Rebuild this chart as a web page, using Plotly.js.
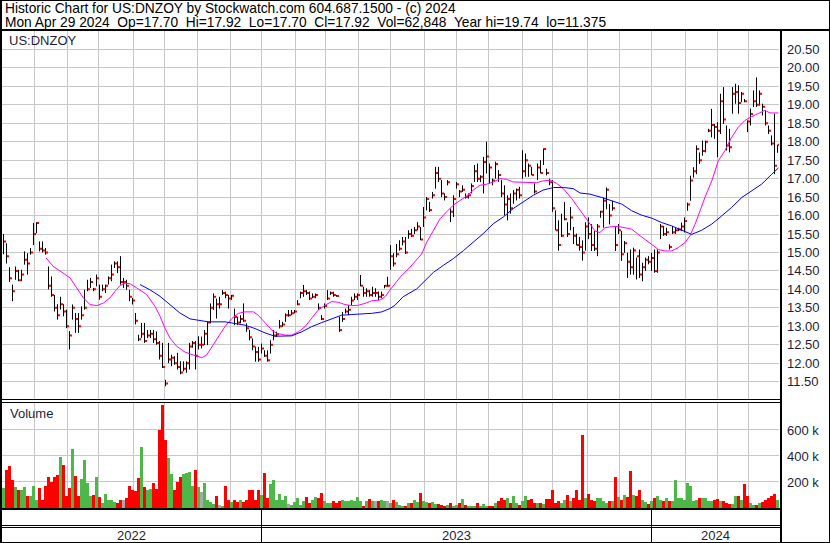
<!DOCTYPE html>
<html>
<head>
<meta charset="utf-8">
<script src="https://cdn.plot.ly/plotly-3.0.1.min.js"></script>
<style>
html,body{margin:0;padding:0;background:#fff;}
#chart{width:830px;height:543px;}
</style>
</head>
<body>
<div id="chart"></div>
<script>
// ---------------- DATA ----------------
const headerLine1 = "Historic Chart for US:DNZOY by Stockwatch.com 604.687.1500 - (c) 2024";
const headerLine2 = "Mon Apr 29 2024  Op=17.70  Hi=17.92  Lo=17.70  Cl=17.92  Vol=62,848  Year hi=19.74  lo=11.375";
const symbolLabel = "US:DNZOY";
const volumeLabel = "Volume";

// bar-by-bar high / low / close (one bar per position on the trading-day axis)
const highs = [
15.5,15.25,14.6,14.13,14.62,14.53,14.53,15.03,14.98,15.12,15.8,15.82,15.3,15.3,15.12,14.62,14.35,13.85,13.6,13.8,
13.6,13.45,12.87,13.59,13.36,13.36,13.54,13.99,14.26,14.31,14.04,14.4,14.13,14.13,14.13,14.35,14.67,14.76,14.76,14.9,
14.31,14.26,13.99,13.77,13.36,12.77,13.09,13.09,12.9,12.9,12.9,12.86,12.6,12.55,11.55,12.55,12.23,12.19,12.28,12.05,
12.05,12.05,12.55,12.6,12.6,12.73,12.72,12.9,13.12,13.62,13.89,13.75,13.8,13.98,13.94,13.85,13.85,13.48,13.26,13.3,
13.62,13.08,12.9,12.67,12.45,12.44,12.53,12.35,12.35,12.62,12.9,12.85,13.17,13.12,13.35,13.44,13.44,13.44,13.71,13.94,
14.12,13.98,13.94,13.89,13.89,13.62,13.3,13.62,13.98,13.94,13.94,13.85,13.26,13.39,13.48,13.57,13.8,13.89,13.89,14.39,
14.07,14.03,13.98,14.07,14.03,13.94,13.94,14.12,14.34,15.2,14.98,15.23,15.33,15.42,15.42,15.6,15.64,15.69,15.82,15.69,
16.23,16.5,16.37,16.64,17.32,17.32,16.96,16.6,16.96,16.19,16.55,16.91,16.69,16.82,16.6,16.6,16.87,17.37,17.41,17.09,
17.59,18.0,17.41,17.0,17.46,17.23,16.96,16.82,16.55,16.6,16.69,16.73,16.78,17.77,17.68,17.41,17.32,16.87,17.41,17.5,
17.82,17.27,17.0,16.96,16.14,15.87,16.05,16.37,15.82,16.23,15.69,15.51,15.42,15.33,15.82,15.95,15.77,15.58,15.77,16.13,
16.49,16.76,16.31,16.4,15.72,15.77,15.58,15.31,14.99,15.08,15.13,14.86,15.08,14.72,14.86,14.9,14.99,15.08,15.08,15.77,
15.72,15.67,15.22,15.72,15.67,15.67,15.81,15.95,16.35,17.08,17.31,17.9,17.71,18.03,18.03,18.35,18.89,18.48,18.53,19.3,
19.48,18.44,18.35,19.48,19.57,19.53,19.35,19.16,18.58,18.9,19.39,19.74,19.39,19.03,18.85,18.44,18.17,18.76,17.92];
const lows = [
14.95,14.7,14.2,13.68,14.26,14.22,14.22,14.67,14.4,14.94,15.2,15.52,15.03,15.0,14.94,14.0,13.8,13.4,13.18,13.45,
13.27,12.95,12.37,13.18,12.82,12.82,13.18,13.45,13.95,14.04,13.95,14.08,13.72,13.95,13.9,14.13,14.22,14.58,14.44,14.13,
14.04,13.99,13.68,13.59,13.05,12.6,12.68,12.55,12.68,12.68,12.55,12.5,12.1,11.87,11.375,12.0,11.92,11.96,11.83,11.7,
11.78,11.74,11.83,12.42,11.83,12.37,12.4,12.49,12.49,13.08,13.44,13.21,13.48,13.85,13.76,13.48,13.71,13.03,13.03,13.08,
13.12,12.85,12.62,12.35,12.04,12.04,12.26,12.17,12.04,12.26,12.62,12.71,12.94,12.99,13.12,13.26,13.3,13.35,13.57,13.76,
13.8,13.85,13.71,13.76,13.76,13.44,13.17,13.48,13.71,13.85,13.8,13.8,12.85,13.12,13.35,13.3,13.57,13.71,13.71,14.08,
13.8,13.8,13.8,13.8,13.8,13.71,13.76,14.03,14.07,14.53,14.62,14.87,15.05,15.19,14.96,15.37,15.42,15.5,15.6,15.33,
15.69,16.14,16.1,16.46,16.73,16.91,16.5,16.41,16.82,15.82,15.96,16.73,16.5,16.64,16.46,16.46,16.6,16.91,16.91,16.91,
16.6,17.14,16.87,16.82,17.0,16.91,16.5,16.0,15.87,16.05,16.32,16.41,16.46,17.0,17.05,17.05,17.09,16.6,16.96,17.14,
17.37,17.09,16.82,16.1,15.6,15.05,15.42,15.87,15.42,15.6,15.23,15.19,15.05,14.78,15.05,15.36,15.04,15.04,14.9,15.94,
15.67,16.17,15.76,16.13,15.04,15.5,14.77,14.99,14.31,14.4,14.4,14.27,14.31,14.22,14.5,14.68,14.5,14.45,14.45,15.36,
15.45,15.45,15.08,15.5,15.5,15.58,15.58,15.54,16.13,16.4,17.03,17.12,17.4,17.62,17.71,18.26,18.12,18.08,17.58,18.21,
18.48,17.76,17.71,18.76,19.03,18.76,19.07,19.07,18.26,18.44,18.94,18.94,18.98,18.71,18.44,18.21,17.9,17.12,17.70];
const closes = [
15.3,14.9,14.3,13.95,14.5,14.25,14.4,14.8,14.7,15.0,15.5,15.8,15.1,15.05,15.0,14.1,13.85,13.5,13.3,13.6,
13.4,13.0,12.75,13.5,13.2,13.0,13.3,13.5,14.0,14.2,14.0,14.3,13.8,14.0,14.1,14.3,14.4,14.7,14.6,14.2,
14.2,14.1,13.8,13.7,13.15,12.65,12.8,12.6,12.75,12.8,12.65,12.55,12.2,11.9,11.45,12.1,12.15,12.0,11.9,11.75,
11.85,12.0,12.45,12.55,12.2,12.5,12.5,12.8,13.1,13.5,13.8,13.6,13.6,13.9,13.85,13.75,13.83,13.25,13.1,13.2,
13.15,12.95,12.7,12.45,12.3,12.1,12.4,12.2,12.08,12.5,12.75,12.78,13.0,13.05,13.3,13.3,13.35,13.4,13.6,13.9,
13.95,13.9,13.75,13.8,13.85,13.5,13.2,13.55,13.75,13.9,13.85,13.82,12.9,13.2,13.4,13.45,13.7,13.8,13.85,14.1,
13.9,13.95,13.85,13.9,13.9,13.8,13.85,14.1,14.1,14.9,14.7,14.95,15.1,15.3,15.0,15.5,15.45,15.6,15.7,15.35,
15.95,16.45,16.15,16.55,17.15,17.0,16.6,16.5,16.9,16.1,16.45,16.85,16.65,16.7,16.5,16.55,16.8,17.2,17.0,17.05,
17.45,17.6,17.3,16.95,17.4,17.1,16.6,16.3,16.45,16.2,16.6,16.7,16.55,17.2,17.5,17.35,17.1,16.65,17.3,17.15,
17.8,17.15,16.9,16.2,15.6,15.2,15.45,15.9,15.5,15.95,15.45,15.2,15.15,15.0,15.7,15.5,15.2,15.1,15.7,16.1,
16.4,16.7,16.0,16.2,15.2,15.6,14.95,15.25,14.75,14.6,15.05,14.9,14.4,14.6,14.8,14.75,14.85,14.5,15.0,15.7,
15.5,15.55,15.15,15.55,15.6,15.62,15.7,15.85,16.3,16.95,17.2,17.8,17.5,17.75,18.0,18.3,18.45,18.4,18.3,19.1,
18.6,17.9,17.85,19.3,19.35,19.05,19.3,19.1,18.55,18.75,19.1,19.0,19.3,18.95,18.5,18.3,17.95,17.35,17.92];
// volume per bar, thousands of shares
const volumeK = [
150,295,325,215,165,140,140,160,95,90,170,65,155,64,170,235,200,240,256,392,
328,90,150,454,244,95,225,372,192,90,100,238,85,40,110,60,64,50,38,64,
64,75,170,140,128,230,470,165,140,145,192,146,597,795,526,385,264,140,200,235,
260,270,280,170,295,160,120,192,64,45,33,90,26,18,170,60,50,64,45,64,
45,64,141,141,64,141,103,270,80,185,218,64,110,64,90,33,26,50,80,26,
51,85,38,64,82,77,115,51,38,38,51,38,51,58,51,51,58,51,85,51,
18,51,70,51,51,51,64,51,51,40,64,45,26,18,18,38,38,64,50,115,
51,45,35,45,30,30,26,18,20,35,15,26,38,69,26,18,18,18,38,18,
33,18,18,18,38,51,77,64,77,38,90,38,26,51,90,64,69,38,38,38,
33,69,69,141,38,51,38,64,103,51,77,141,64,564,77,110,64,51,77,77,
51,38,51,51,238,85,64,103,85,287,103,90,141,64,45,33,51,77,90,64,
51,80,51,51,218,77,77,64,192,172,51,64,77,77,77,51,51,64,69,51,
51,38,33,30,90,90,64,187,95,38,26,20,38,45,64,80,90,110,63];

// moving averages (bar position, value)
const fastMAPos = [14.2,16.6,19.9,22.2,24.4,26.6,28.8,31.1,33.3,35.5,37.2,38.8,40.5,42.2,44.4,47.7,50.5,52.2,53.8,55.5,
57.7,60.5,63.3,66.1,67.7,69.4,71.6,73.8,76.1,78.3,80.5,83.3,84.9,87.2,89.4,91.1,93.8,96.1,98.3,100.5,
102.7,104.9,107.2,109.4,111.6,113.8,116.1,118.3,120.5,122.7,125.5,127.2,128.8,132.2,135.5,139.4,141.1,143.3,145.5,147.7,
149.9,152.2,154.4,156.6,158.8,161.1,163.3,165.5,167.7,169.9,172.2,175.5,177.7,179.9,182.2,184.4,186.6,189.4,192.2,194.9,
197.2,198.8,200.5,202.7,204.9,207.2,209.4,211.6,213.8,216.1,218.3,220.5,222.7,224.9,227.2,228.8,230.5,232.2,233.8,236.1,
238.3,240.5,242.7,244.9,247.2,249.4,251.6,253.8,255.5,258.3];
const fastMA = [14.85,14.62,14.44,14.31,14.04,13.77,13.59,13.56,13.63,13.77,13.95,14.1,14.17,14.15,14.04,13.86,13.54,13.27,12.95,12.68,
12.46,12.3,12.22,12.15,12.22,12.44,12.71,12.99,13.21,13.35,13.39,13.39,13.3,13.08,12.9,12.81,12.76,12.76,12.85,12.99,
13.21,13.44,13.57,13.67,13.65,13.59,13.56,13.57,13.62,13.69,13.71,13.8,13.98,14.33,14.6,14.96,15.28,15.6,15.91,16.1,
16.28,16.41,16.53,16.69,16.82,16.85,16.91,17.0,16.98,16.91,16.91,16.91,16.89,16.94,16.96,16.87,16.73,16.46,16.14,15.82,
15.58,15.54,15.67,15.7,15.7,15.67,15.63,15.49,15.36,15.22,15.08,15.04,15.04,15.13,15.27,15.45,15.76,16.13,16.49,16.94,
17.49,17.76,18.12,18.39,18.58,18.68,18.77,18.85,18.78,18.78];
const slowMAPos = [45.5,48.8,52.2,55.5,58.8,62.2,65.5,68.3,73.8,77.2,80.5,83.8,87.2,90.5,93.8,96.1,99.4,102.7,106.1,109.4,
112.7,116.1,119.4,122.7,126.1,128.8,130.5,133.2,137.7,139.9,143.3,146.6,149.9,153.3,156.6,159.9,163.3,166.6,169.9,173.3,
176.6,179.9,183.3,186.6,189.9,192.2,195.5,199.4,202.7,206.1,209.4,212.7,216.1,219.4,222.7,226.1,229.4,232.7,236.1,239.4,
242.7,246.1,249.4,252.7,256.1,258.3];
const slowMA = [14.13,13.99,13.81,13.59,13.36,13.2,13.15,13.12,13.12,13.08,13.03,12.94,12.82,12.73,12.73,12.74,12.85,12.99,13.1,13.21,
13.3,13.32,13.33,13.35,13.39,13.48,13.57,13.8,14.01,14.19,14.46,14.65,14.83,15.05,15.28,15.51,15.78,15.96,16.19,16.37,
16.55,16.69,16.76,16.76,16.73,16.61,16.58,16.49,16.4,16.31,16.13,16.01,15.93,15.81,15.72,15.6,15.49,15.6,15.77,15.99,
16.22,16.49,16.67,16.85,17.12,17.29];

// month starts (bar positions) for vertical grid, year boundaries and labels
const monthStarts = [10.33,21.33,31.67,43.33,53.67,64.67,75.67,86,97.33,107.33,118.33,129,140.33,151,161.67,173,183,194.67,205.33,216,227.33,238,248.33];
const yearBounds = [-0.5, 86, 216, 258.5];
const yearLabels = ["2022","2023","2024"];
const priceTicks = [11.5,12,12.5,13,13.5,14,14.5,15,15.5,16,16.5,17,17.5,18,18.5,19,19.5,20,20.5];
const volumeTicks = [200,400,600];

// ---------------- BUILD ----------------
const N = closes.length;
const idx = closes.map((_, i) => i);

// high-low sticks as one line trace with gaps
const hlX = [], hlY = [];
for (let i = 0; i < N; i++) { hlX.push(i, i, null); hlY.push(lows[i], highs[i], null); }

const GREEN = '#4db848', RED = '#ff0000', GRAY = '#a8a8a8';
const volColors = closes.map((c, i) => {
  if (i === 0) return GREEN;
  if (c > closes[i - 1]) return GREEN;
  if (c < closes[i - 1]) return RED;
  return GRAY;
});

// pixel geometry helpers for frame shapes / labels
const W = 830, H = 543, L = 2, R = 51, T = 31, B = 35;
const PW = W - L - R, PH = H - T - B;
const px = X => (X - L) / PW;
const py = Y => (H - B - Y) / PH;
const bx = v => (v + 0.5) / N;   // bar position -> paper x

const FONT = 'Liberation Sans, Arial, sans-serif';
const INK = '#1e1e3c';

const traces = [
  { type: 'scatter', mode: 'lines', x: hlX, y: hlY, xaxis: 'x', yaxis: 'y',
    line: { color: '#000000', width: 1 }, hoverinfo: 'skip', connectgaps: false },
  { type: 'scatter', mode: 'markers', x: idx.map(i => i + 0.5), y: closes, xaxis: 'x', yaxis: 'y',
    marker: { symbol: 'square', size: 2, color: '#ff0000', line: { width: 0 } }, hoverinfo: 'skip' },
  { type: 'scatter', mode: 'lines', x: fastMAPos, y: fastMA, xaxis: 'x', yaxis: 'y',
    line: { color: '#ff00ff', width: 1 }, hoverinfo: 'skip' },
  { type: 'scatter', mode: 'lines', x: slowMAPos, y: slowMA, xaxis: 'x', yaxis: 'y',
    line: { color: '#0000ff', width: 1 }, hoverinfo: 'skip' },
  { type: 'bar', x: idx, y: volumeK, xaxis: 'x2', yaxis: 'y2', width: 1,
    marker: { color: volColors, line: { width: 0 } }, hoverinfo: 'skip' }
];

const gridCol = '#c8c8c8';
const xCommon = {
  range: [-0.5, N - 0.5], tickmode: 'array', tickvals: monthStarts, showticklabels: false,
  ticks: '', showgrid: true, gridcolor: gridCol, gridwidth: 1, zeroline: false, showline: false, fixedrange: true
};
const priceLow = 11, priceHigh = 21;
const volMax = 815;

const shapes = [];
const rect = (x0, y0, x1, y1) => shapes.push({ type: 'rect', xref: 'paper', yref: 'paper',
  x0: px(x0), x1: px(x1), y0: py(y0), y1: py(y1), fillcolor: '#000', line: { width: 0 }, layer: 'above' });
// outer frame
rect(0, 0, 830, 1); rect(0, 542, 830, 543); rect(829, 0, 830, 543); rect(0, 0, 2, 543);
// header separator
rect(0, 29, 830, 31);
// right axis border
rect(780, 30, 782, 543);
// panel separators
rect(0, 399, 782, 400);
rect(0, 402, 782, 403);
rect(0, 508, 782, 510);
rect(0, 525, 782, 526);
rect(0, 527, 782, 528);
// year separators in the bottom bands
for (let k = 1; k < yearBounds.length - 1; k++) {
  const X = Math.floor(L + (yearBounds[k] + 0.5) * PW / N);
  rect(X, 510, X + 1, 542);
}

const annotations = [
  { text: headerLine1, x: px(3), y: py(8.5), xref: 'paper', yref: 'paper', xanchor: 'left', yanchor: 'middle',
    showarrow: false, font: { family: FONT, size: 13.75, color: '#000' } },
  { text: headerLine2.replace(/  /g, '\u00a0 '), x: px(3), y: py(22.5), xref: 'paper', yref: 'paper', xanchor: 'left', yanchor: 'middle',
    showarrow: false, font: { family: FONT, size: 13.75, color: '#000' } },
  { text: symbolLabel, x: px(7), y: py(40.5), xref: 'paper', yref: 'paper', xanchor: 'left', yanchor: 'middle',
    showarrow: false, font: { family: FONT, size: 13, color: INK } },
  { text: volumeLabel, x: px(8), y: py(413), xref: 'paper', yref: 'paper', xanchor: 'left', yanchor: 'middle',
    showarrow: false, font: { family: FONT, size: 13, color: INK } }
];
for (let k = 0; k < yearLabels.length; k++) {
  annotations.push({ text: yearLabels[k], x: bx((yearBounds[k] + yearBounds[k + 1]) / 2), y: py(535),
    xref: 'paper', yref: 'paper', xanchor: 'center', yanchor: 'middle', showarrow: false,
    font: { family: FONT, size: 13, color: INK } });
}

const layout = {
  width: W, height: H,
  margin: { l: L, r: R, t: T, b: B, pad: 0 },
  paper_bgcolor: '#ffffff', plot_bgcolor: '#ffffff',
  showlegend: false, hovermode: false,
  font: { family: FONT, size: 13, color: INK },
  xaxis: Object.assign({}, xCommon, { anchor: 'y', domain: [0, 1] }),
  xaxis2: Object.assign({}, xCommon, { anchor: 'y2', domain: [0, 1] }),
  yaxis: {
    domain: [py(400.1), 1], range: [priceLow, priceHigh], side: 'right', anchor: 'x',
    tickmode: 'array', tickvals: priceTicks, ticktext: priceTicks.map(v => v.toFixed(2)),
    ticks: '', ticklabelstandoff: 7, showgrid: true, gridcolor: gridCol, zeroline: false, showline: false,
    tickfont: { family: FONT, size: 13, color: INK }, fixedrange: true
  },
  yaxis2: {
    domain: [0, py(402)], range: [0, volMax], side: 'right', anchor: 'x2',
    tickmode: 'array', tickvals: volumeTicks, ticktext: volumeTicks.map(v => v + ' k'),
    ticks: '', ticklabelstandoff: 7, showgrid: true, gridcolor: gridCol, zeroline: false, showline: false,
    tickfont: { family: FONT, size: 13, color: INK }, fixedrange: true
  },
  bargap: 0,
  shapes: shapes,
  annotations: annotations
};

Plotly.newPlot('chart', traces, layout, { staticPlot: true, displayModeBar: false });
</script>
</body>
</html>
